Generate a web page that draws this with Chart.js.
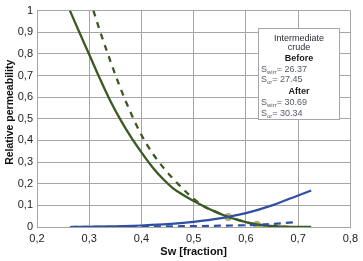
<!DOCTYPE html>
<html>
<head>
<meta charset="utf-8">
<script src="https://cdn.jsdelivr.net/npm/chart.js@4/dist/chart.umd.min.js"></script>
<style>
  html, body { margin: 0; padding: 0; background: #fff; }
  #wrap { width: 363px; height: 261px; }
</style>
</head>
<body>
<div id="wrap"><canvas id="c" width="363" height="261"></canvas></div>
<script>
// Sw [fraction] / relative permeability
const kroBeforeSw = [0.263, 0.28, 0.30, 0.32, 0.34, 0.36, 0.38, 0.40, 0.42, 0.44, 0.46, 0.48, 0.50, 0.52, 0.54, 0.56, 0.58, 0.60, 0.62, 0.64, 0.66, 0.68, 0.70, 0.725];
const kroBeforeKr = [1.000, 0.906, 0.797, 0.688, 0.585, 0.495, 0.415, 0.345, 0.280, 0.225, 0.180, 0.148, 0.120, 0.095, 0.072, 0.052, 0.036, 0.022, 0.012, 0.006, 0.003, 0.001, 0.000, 0.000];

const kroAfterSw = [0.308, 0.32, 0.34, 0.36, 0.38, 0.40, 0.42, 0.44, 0.46, 0.48, 0.50, 0.52, 0.54, 0.56, 0.58, 0.60, 0.62, 0.64, 0.66, 0.69];
const kroAfterKr = [1.000, 0.910, 0.770, 0.640, 0.525, 0.425, 0.345, 0.280, 0.225, 0.175, 0.130, 0.095, 0.072, 0.052, 0.036, 0.022, 0.012, 0.006, 0.003, 0.000];

const krwBeforeSw = [0.263, 0.30, 0.35, 0.40, 0.45, 0.50, 0.55, 0.60, 0.65, 0.70, 0.725];
const krwBeforeKr = [0.000, 0.001, 0.003, 0.007, 0.013, 0.024, 0.040, 0.064, 0.100, 0.146, 0.169];

const krwAfterSw = [0.263, 0.35, 0.45, 0.55, 0.62, 0.696];
const krwAfterKr = [0.000, 0.001, 0.003, 0.006, 0.010, 0.022];

const crossSw = [0.566, 0.621];
const crossKr = [0.046, 0.010];

const xTicks = [0.2, 0.3, 0.4, 0.5, 0.6, 0.7, 0.8];
const yTicks = [0, 0.1, 0.2, 0.3, 0.4, 0.5, 0.6, 0.7, 0.8, 0.9, 1];

const xTitle = 'Sw [fraction]';
const yTitle = 'Relative permeability';
const boxTitle = ['Intermediate', 'crude'];
const beforeLabel = 'Before';
const afterLabel = 'After';
const beforeSwirr = '26.37';
const beforeSor = '27.45';
const afterSwirr = '30.69';
const afterSor = '30.34';

const pts = (xs, ys) => xs.map((x, i) => ({x: x, y: ys[i]}));
const fmt = v => (v === 0 ? '0' : v === 1 ? '1' : v.toFixed(1).replace('.', ','));

const GREEN = '#3b5a22';
const BLUE = '#2f4fa2';
const GRID = '#a6a6a6';
const FONT = "'Liberation Sans', Arial, sans-serif";

const boxPlugin = {
  id: 'infoBox',
  afterDraw(chart) {
    const ctx = chart.ctx;
    const xs = chart.scales.x, ys = chart.scales.y;
    ctx.save();
    // y axis title
    ctx.translate(10, ys.getPixelForValue(0.53));
    ctx.rotate(-Math.PI / 2);
    ctx.textAlign = 'center';
    ctx.textBaseline = 'middle';
    ctx.fillStyle = '#111';
    ctx.font = 'bold 10.5px ' + FONT;
    ctx.fillText(yTitle, 0, 0);
    ctx.restore();

    // info box anchored in data space
    const x0 = Math.round(xs.getPixelForValue(0.6225)) + 0.5;
    const x1 = Math.round(xs.getPixelForValue(0.779)) + 0.5;
    const y0 = Math.round(ys.getPixelForValue(0.921)) + 0.5;
    const y1 = Math.round(ys.getPixelForValue(0.498)) + 0.5;
    ctx.save();
    ctx.fillStyle = '#fff';
    ctx.fillRect(x0, y0, x1 - x0, y1 - y0);
    ctx.strokeStyle = GRID;
    ctx.lineWidth = 1;
    ctx.strokeRect(x0, y0, x1 - x0, y1 - y0);
    const cx = (x0 + x1) / 2;
    ctx.textBaseline = 'middle';
    ctx.textAlign = 'center';
    ctx.fillStyle = '#2a2a3a';
    ctx.font = '9px ' + FONT;
    ctx.fillText(boxTitle[0], cx, y0 + 10);
    ctx.fillText(boxTitle[1], cx, y0 + 19.5);
    ctx.font = 'bold 9px ' + FONT;
    ctx.fillStyle = '#1a1a1a';
    ctx.fillText(beforeLabel, cx, y0 + 30.5);
    ctx.fillText(afterLabel, cx, y0 + 63);
    const lx = x0 + 2.5;
    const sLine = (y, sub, val) => {
      ctx.textAlign = 'left';
      ctx.fillStyle = '#555a66';
      ctx.font = '9px ' + FONT;
      ctx.fillText('S', lx, y);
      let w = ctx.measureText('S').width;
      ctx.font = '6px ' + FONT;
      ctx.fillText(sub, lx + w, y + 2.5);
      w += ctx.measureText(sub).width;
      ctx.font = '9px ' + FONT;
      ctx.fillText('= ' + val, lx + w, y);
    };
    sLine(y0 + 41, 'wirr', beforeSwirr);
    sLine(y0 + 51.5, 'or', beforeSor);
    sLine(y0 + 74.5, 'wirr', afterSwirr);
    sLine(y0 + 85, 'or', afterSor);
    ctx.restore();
  }
};

new Chart(document.getElementById('c'), {
  type: 'scatter',
  data: {
    datasets: [
      { label: 'krw before', data: pts(krwBeforeSw, krwBeforeKr), showLine: true, borderColor: BLUE, borderWidth: 2.2, pointRadius: 0, cubicInterpolationMode: 'monotone', fill: false },
      { label: 'krw after', data: pts(krwAfterSw, krwAfterKr), showLine: true, borderColor: BLUE, borderWidth: 2.2, borderDash: [7, 5], pointRadius: 0, cubicInterpolationMode: 'monotone', fill: false },
      { label: 'kro after', data: pts(kroAfterSw, kroAfterKr), showLine: true, borderColor: GREEN, borderWidth: 2.3, borderDash: [6, 6], pointRadius: 0, cubicInterpolationMode: 'monotone', fill: false },
      { label: 'kro before', data: pts(kroBeforeSw, kroBeforeKr), showLine: true, borderColor: GREEN, borderWidth: 2.3, pointRadius: 0, cubicInterpolationMode: 'monotone', fill: false },
      { label: 'cross', data: pts(crossSw, crossKr), showLine: false, pointRadius: 3.6, pointBackgroundColor: '#b9bb2e', pointBorderColor: '#a8a8a8', pointBorderWidth: 1 }
    ]
  },
  options: {
    responsive: false,
    animation: false,
    devicePixelRatio: 1,
    layout: { padding: { left: 0, right: 12, top: 6, bottom: 0 } },
    plugins: { legend: { display: false }, tooltip: { enabled: false } },
    scales: {
      x: {
        type: 'linear', min: 0.2, max: 0.8,
        afterBuildTicks: s => { s.ticks = xTicks.map(v => ({value: v})); },
        afterFit: s => { s.height = 34; },
        grid: { color: GRID, lineWidth: 1, drawTicks: false },
        border: { color: GRID, width: 1 },
        ticks: { padding: 5, color: '#222', font: { family: FONT, size: 11 }, callback: v => fmt(v), maxRotation: 0 },
        title: { display: true, text: xTitle, color: '#111', font: { family: FONT, size: 11, weight: 'bold' }, padding: { top: 0, bottom: 2 } }
      },
      y: {
        type: 'linear', min: 0, max: 1,
        afterBuildTicks: s => { s.ticks = yTicks.map(v => ({value: v})); },
        afterFit: s => { s.width = 37; },
        grid: { color: GRID, lineWidth: 1, drawTicks: false },
        border: { color: GRID, width: 1 },
        ticks: { padding: 4, color: '#222', font: { family: FONT, size: 11 }, callback: v => fmt(v) },
        title: { display: false, text: yTitle }
      }
    }
  },
  plugins: [boxPlugin]
});
</script>
</body>
</html>
